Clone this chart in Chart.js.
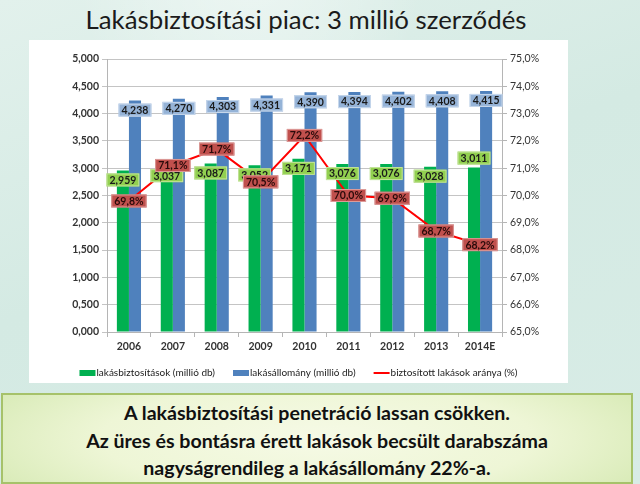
<!DOCTYPE html>
<html><head><meta charset="utf-8">
<script src="https://cdn.jsdelivr.net/npm/chart.js@4.4.1/dist/chart.umd.min.js"></script>
<style>
html,body{margin:0;padding:0;width:640px;height:484px;overflow:hidden;}
body{position:relative;font-family:Lato,"Noto Sans",sans-serif;
 background:
  radial-gradient(ellipse 260px 500px at 250px -120px, rgba(255,255,255,0.55) 0%, rgba(255,255,255,0.0) 70%),
  linear-gradient(160deg,#e2f1ec 0%,#d4eae3 45%,#d8ece6 100%);}
#title{position:absolute;left:0;width:612px;top:4px;text-align:center;font-size:25.8px;color:#1b1b1b;white-space:nowrap;}
#panel{position:absolute;left:29px;top:40px;width:539px;height:343px;background:#fff;}
#cv{position:absolute;left:0;top:0;}
#box{position:absolute;left:1px;top:393px;width:632px;height:91px;border:2px solid #a6c26a;
 background:radial-gradient(ellipse 360px 90px at 50% 50%, #f6fae6 0%, #eef6d6 60%, #d9ebb8 100%);
 text-align:center;font-weight:bold;font-size:19.6px;line-height:27.5px;color:#111;padding-top:4px;box-sizing:border-box;}
</style></head>
<body>
<div id="title">Lakásbiztosítási piac: 3 millió szerződés</div>
<div id="panel"><canvas id="cv" width="539" height="343"></canvas></div>
<div id="box">A lakásbiztosítási penetráció lassan csökken.<br>Az üres és bontásra érett lakások becsült darabszáma<br>nagyságrendileg a lakásállomány 22%-a.</div>
<script>
const categories = ['2006','2007','2008','2009','2010','2011','2012','2013','2014E'];
const insured = [2.959, 3.037, 3.087, 3.052, 3.171, 3.076, 3.076, 3.028, 3.011];
const stock = [4.238, 4.270, 4.303, 4.331, 4.390, 4.394, 4.402, 4.408, 4.415];
const ratio = [69.8, 71.1, 71.7, 70.5, 72.2, 70.0, 69.9, 68.7, 68.2];
const seriesNames = ['lakásbiztosítások (millió db)','lakásállomány (millió db)','biztosított lakások aránya (%)'];

const fmtN = v => v.toFixed(3).replace('.', ',');
const fmtP = v => v.toFixed(1).replace('.', ',') + '%';
const FONT = 'Lato, "Noto Sans", sans-serif';

const labelPlugin = {
  id: 'valueLabels',
  afterDatasetsDraw(chart) {
    const ctx = chart.ctx;
    ctx.save();
    ctx.font = 'bold 10.5px ' + FONT;
    ctx.textAlign = 'center';
    ctx.textBaseline = 'middle';
    const specs = [
      {ds: 0, fill: '#92d050', stroke: '#c4e39c', color: '#1a1a1a', fmt: fmtN},
      {ds: 1, fill: '#95b3d7', stroke: '#c8d8ec', color: '#1a1a1a', fmt: fmtN},
      {ds: 2, fill: '#c0504d', stroke: '#dc9a98', color: '#2a0a0a', fmt: fmtP}
    ];
    specs.forEach(s => {
      const meta = chart.getDatasetMeta(s.ds);
      const data = chart.data.datasets[s.ds].data;
      meta.data.forEach((el, i) => {
        let x = el.x, y = el.y;
        if (s.ds < 2) {
          const outside = (s.ds === 0 && i === data.length - 1);
          y = outside ? el.y - 9.5 : el.y + 9.5;
        }
        const t = s.fmt(data[i]);
        const w = ctx.measureText(t).width + 6, h = 13;
        ctx.fillStyle = s.fill;
        ctx.fillRect(x - w/2, y - h/2, w, h);
        ctx.strokeStyle = s.stroke; ctx.lineWidth = 1;
        ctx.strokeRect(x - w/2 + 0.5, y - h/2 + 0.5, w - 1, h - 1);
        ctx.fillStyle = s.color;
        ctx.fillText(t, x, y + 0.5);
      });
    });
    ctx.restore();
  }
};

const legendPlugin = {
  id: 'customLegend',
  afterDraw(chart) {
    const ctx = chart.ctx;
    ctx.save();
    ctx.font = '10px ' + FONT;
    ctx.textBaseline = 'middle';
    ctx.textAlign = 'left';
    const y = 333, boxW = 16, gap = 1, sep = 18;
    const widths = seriesNames.map(n => ctx.measureText(n).width);
    const total = widths.reduce((a, b) => a + b, 0) + 3 * (boxW + gap) + 2 * sep;
    let x = (chart.width - total) / 2;
    const cols = chart.data.datasets.map(d => d.legendColor);
    seriesNames.forEach((n, i) => {
      if (i < 2) {
        ctx.fillStyle = cols[i];
        ctx.fillRect(x, y - 3, boxW, 6);
      } else {
        ctx.strokeStyle = cols[i]; ctx.lineWidth = 2;
        ctx.beginPath(); ctx.moveTo(x, y); ctx.lineTo(x + boxW, y); ctx.stroke();
      }
      x += boxW + gap;
      ctx.fillStyle = '#222';
      ctx.fillText(n, x, y);
      x += widths[i] + sep;
    });
    ctx.restore();
  }
};

new Chart(document.getElementById('cv'), {
  data: {
    labels: categories,
    datasets: [
      {type: 'bar', label: seriesNames[0], data: insured, backgroundColor: '#00b050', legendColor: '#00b050', yAxisID: 'y', order: 2,
       categoryPercentage: 0.55, barPercentage: 1.0},
      {type: 'bar', label: seriesNames[1], data: stock, backgroundColor: '#4f81bd', legendColor: '#4f81bd', yAxisID: 'y', order: 2,
       categoryPercentage: 0.55, barPercentage: 1.0},
      {type: 'line', label: seriesNames[2], data: ratio, borderColor: '#ff0000', legendColor: '#ff0000', borderWidth: 2,
       pointRadius: 0, yAxisID: 'y1', order: 1, tension: 0}
    ]
  },
  options: {
    responsive: false,
    animation: false,
    devicePixelRatio: 1,
    layout: {padding: {top: 19, left: 0, right: 0, bottom: 0}},
    plugins: {legend: {display: false}, tooltip: {enabled: false}},
    scales: {
      x: {
        grid: {display: true, offset: true, drawOnChartArea: false, tickLength: 5, color: '#b5b5b5'},
        border: {color: '#b5b5b5'},
        ticks: {font: {family: FONT, size: 10.5, weight: 'bold'}, color: '#333', padding: 3},
        afterFit(s) { s.height = 51; }
      },
      y: {
        position: 'left', min: 0, max: 5, 
        ticks: {stepSize: 0.5, callback: v => fmtN(v), font: {family: FONT, size: 10.5, weight: 'bold'}, color: '#333', padding: 3},
        grid: {color: '#c4c4c4', tickLength: 5},
        border: {color: '#b5b5b5'},
        afterFit(s) { s.width = 78; }
      },
      y1: {
        position: 'right', min: 65, max: 75,
        ticks: {stepSize: 1, callback: v => fmtP(v), font: {family: FONT, size: 10.5}, color: '#333', padding: 3},
        grid: {drawOnChartArea: false, tickLength: 5, color: '#b5b5b5'},
        border: {color: '#b5b5b5'},
        afterFit(s) { s.width = 66; }
      }
    }
  },
  plugins: [labelPlugin, legendPlugin]
});
</script>
</body></html>
